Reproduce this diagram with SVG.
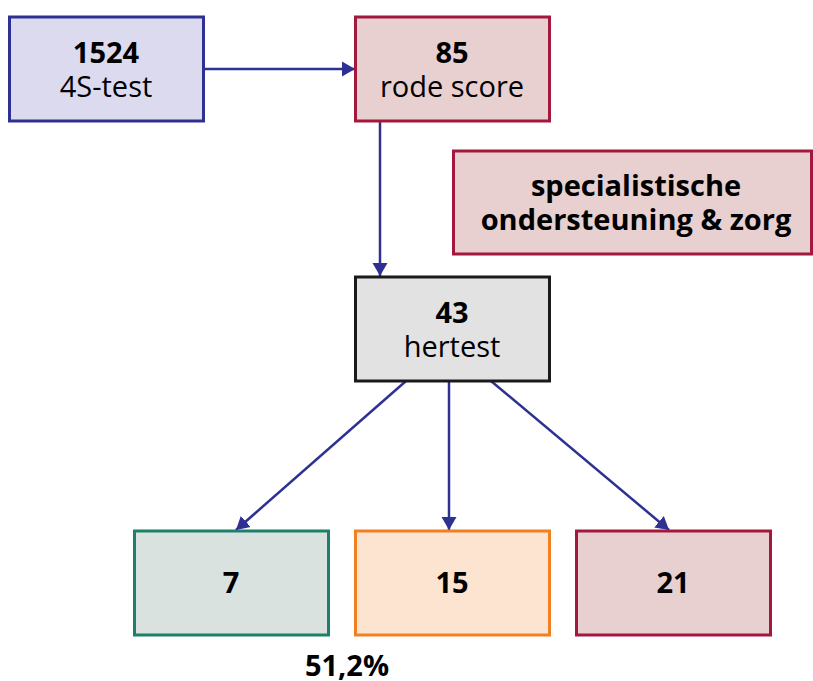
<svg xmlns="http://www.w3.org/2000/svg" width="813" height="681" viewBox="0 0 813 681">
<style>
text{font-family:"Open Sans","Noto Sans","Liberation Sans",sans-serif;fill:#000;text-anchor:middle}
.b{font-weight:bold}
.n{font-size:29px}
.box{stroke-width:3}
.blue{fill:#dcdaee;stroke:#2e3192}
.red{fill:#e8cfd0;stroke:#a3193e}
.grey{fill:#e2e2e2;stroke:#1a1a1a}
.green{fill:#d9e2de;stroke:#1e7f6a}
.orange{fill:#fce4d1;stroke:#f08020}
.c{stroke:#2e3192;stroke-width:2.5;fill:none;marker-end:url(#ah)}
</style>
<defs>
<marker id="ah" markerUnits="userSpaceOnUse" markerWidth="18" markerHeight="18" viewBox="0 0 18 18" refX="13" refY="9" orient="auto">
<path d="M0,1.5 L13,9 L0,16.5 Z" fill="#2e3192"/>
</marker>
</defs>
<g id="connectors">
<line class="c" x1="203" y1="69" x2="355" y2="69"/>
<line class="c" x1="380" y1="121" x2="380" y2="276"/>
<line class="c" x1="406" y1="381" x2="236" y2="530"/>
<line class="c" x1="449" y1="381" x2="449" y2="530"/>
<line class="c" x1="491" y1="381" x2="669" y2="530"/>
</g>
<g id="n1524">
<rect class="box blue" x="9.5" y="17" width="194" height="104"/>
<text class="b n" x="106" y="63">1524</text>
<text class="n" x="106" y="97">4S-test</text>
</g>
<g id="n85">
<rect class="box red" x="355.5" y="17" width="194" height="104"/>
<text class="b n" x="452" y="63">85</text>
<text class="n" x="452" y="97">rode score</text>
</g>
<g id="nspec">
<rect class="box red" x="453.5" y="151" width="358" height="103"/>
<text class="b n" x="636" y="196">specialistische</text>
<text class="b n" x="636" y="230">ondersteuning &amp; zorg</text>
</g>
<g id="n43">
<rect class="box grey" x="355.5" y="277" width="194" height="104"/>
<text class="b n" x="452" y="323">43</text>
<text class="n" x="452" y="357">hertest</text>
</g>
<g id="n7">
<rect class="box green" x="134.5" y="531" width="194" height="104"/>
<text class="b n" x="231" y="593">7</text>
</g>
<g id="n15">
<rect class="box orange" x="355.5" y="531" width="194" height="104"/>
<text class="b n" x="452" y="593">15</text>
</g>
<g id="n21">
<rect class="box red" x="576.5" y="531" width="194" height="104"/>
<text class="b n" x="673" y="593">21</text>
</g>
<g id="pct">
<text class="b n" x="347" y="676">51,2%</text>
</g>
</svg>
